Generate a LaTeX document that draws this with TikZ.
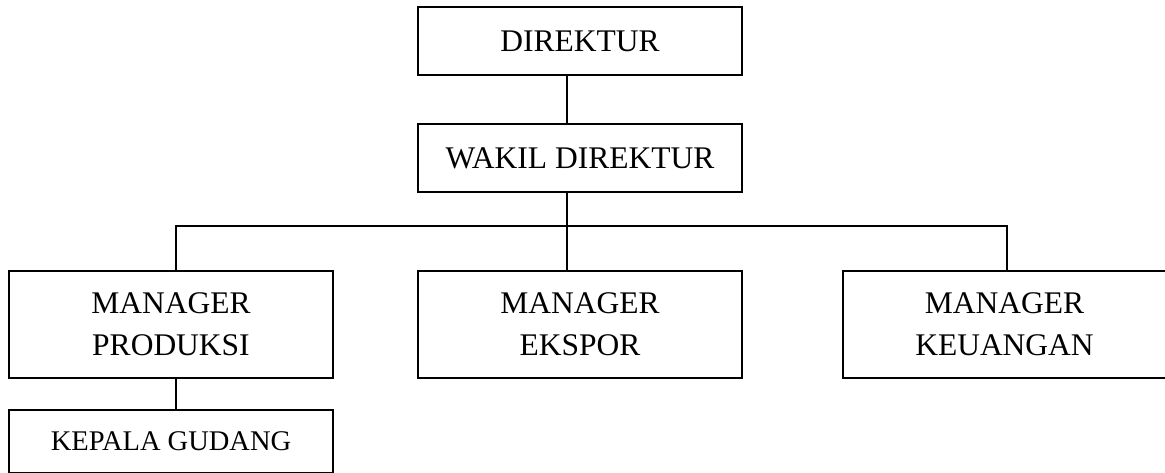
\documentclass[tikz,border=0pt]{standalone}
\usepackage{fontspec}
\setmainfont{Liberation Serif}
\begin{document}
\begin{tikzpicture}[x=1pt,y=-1pt,
  orgbox/.style={draw,line width=1.5pt,inner sep=0pt,align=center,
    font=\fontsize{31.5}{42}\selectfont},
  conn/.style={line width=1.5pt}]
\useasboundingbox (0,0) rectangle (1165,473);
% boxes
\node[orgbox,minimum width=324pt,minimum height=68pt] (dir) at (580,41) {DIREKTUR};
\node[orgbox,minimum width=324pt,minimum height=68pt] (wak) at (580,158) {WAKIL DIREKTUR};
\node[orgbox,minimum width=324pt,minimum height=107pt] (prod) at (171,324.5) {MANAGER\\PRODUKSI};
\node[orgbox,minimum width=324pt,minimum height=107pt] (eksp) at (580,324.5) {MANAGER\\EKSPOR};
\node[orgbox,minimum width=323pt,minimum height=107pt] (keu) at (1004.5,324.5) {MANAGER\\KEUANGAN};
\node[orgbox,minimum width=324pt,minimum height=63pt,font=\fontsize{28.5}{34}\selectfont] (kep) at (171,441.5) {KEPALA GUDANG};
% connector guides
\coordinate (cx) at (567,0);
\coordinate (lx) at (176,0);
\coordinate (rx) at (1007,0);
\coordinate (bus) at (0,226);
% connectors
\draw[conn] (dir.south -| cx) -- (wak.north -| cx);
\draw[conn] (wak.south -| cx) -- (eksp.north -| cx);
\draw[conn] (prod.north -| lx) -- (bus -| lx) -- (bus -| rx) -- (keu.north -| rx);
\draw[conn] (prod.south -| lx) -- (kep.north -| lx);
\end{tikzpicture}
\end{document}
